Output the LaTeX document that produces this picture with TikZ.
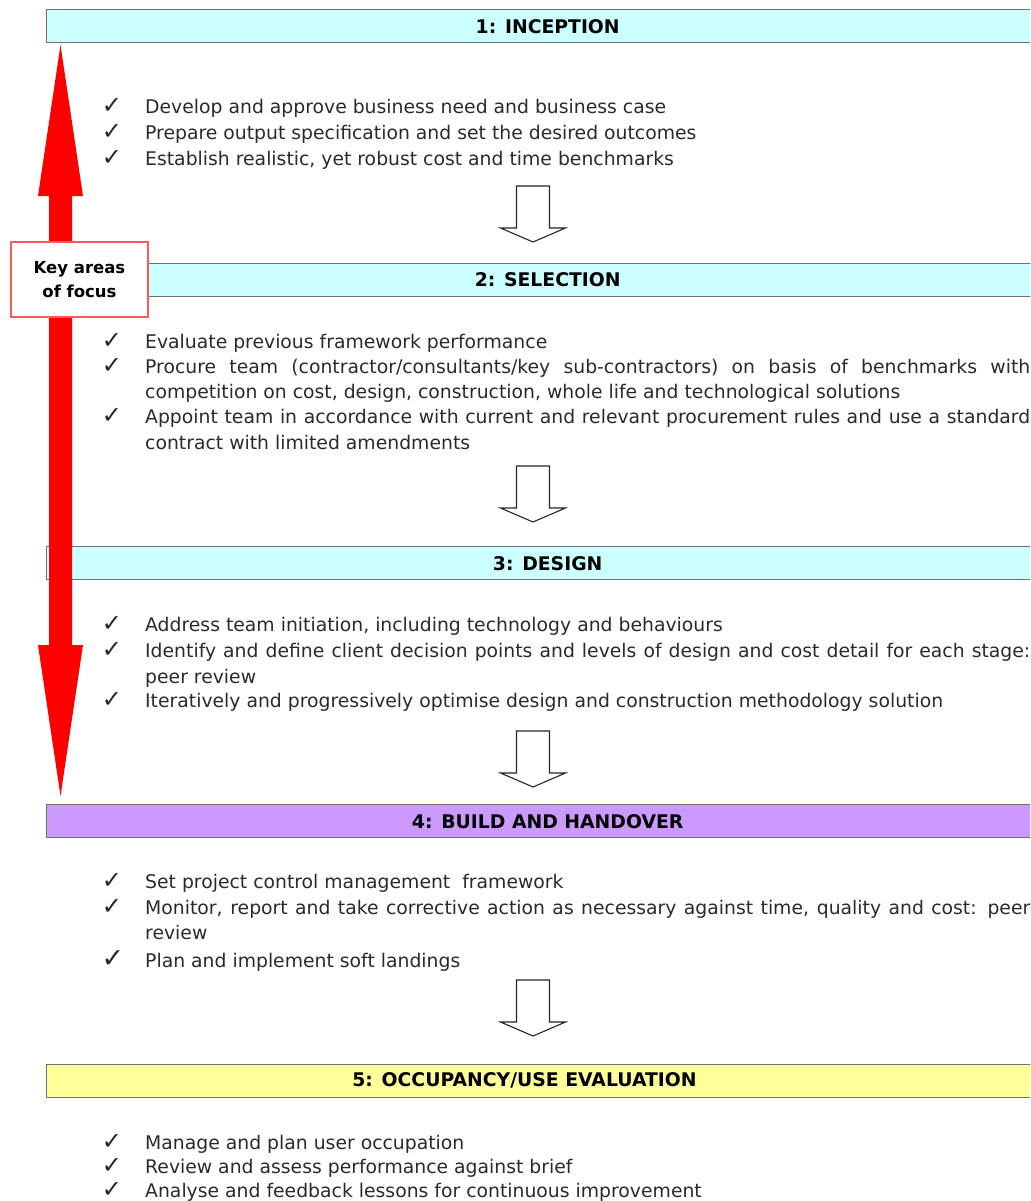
\documentclass[tikz,border=0pt]{standalone}
\usepackage{fontspec}
\setmainfont{DejaVu Sans}
\definecolor{cyanbar}{HTML}{CCFFFF}
\definecolor{lilacbar}{HTML}{CC99FF}
\definecolor{yellowbar}{HTML}{FFFF99}
\definecolor{barline}{HTML}{707070}
\definecolor{bodytext}{HTML}{2A2A2A}
\definecolor{keyred}{HTML}{FF5A5A}
\begin{document}
\begin{tikzpicture}[x=1pt,y=-1pt,
  bar/.style={draw=barline,line width=1.4pt,anchor=north west,minimum width=1002pt,minimum height=33pt,inner sep=0pt,
    font=\bfseries\fontsize{18.8}{22}\selectfont,text=black},
  bartext/.style={inner sep=0pt,font=\bfseries\fontsize{18.8}{22}\selectfont,text=black},
  item/.style={anchor=base west,inner sep=0pt,text=bodytext,font=\fontsize{18.8}{26}\selectfont},
  tick/.style={anchor=base,inner sep=0pt,text=black!85,font=\fontsize{24}{26}\selectfont},
  hollow/.style={draw=black!85,fill=white,line width=1.1pt,line join=miter},
  redarrow/.style={fill=red,draw=none}]
\useasboundingbox (0,0) rectangle (1030,1201);
\clip (0,0) rectangle (1030,1201);

% header bars
\node[bar,fill=cyanbar] (b1) at (46,9) {1: INCEPTION};
\node[bar,fill=cyanbar] (b2) at (46,262.5) {2: SELECTION};
\node[bar,fill=cyanbar] (b3) at (46,546) {3: DESIGN};
\node[bar,fill=lilacbar] (b4) at (46,804) {4: BUILD AND HANDOVER};
\node[bar,fill=yellowbar] (b5) at (46,1064) {};
\node[bartext] (t5) at (524.5,1080.5) {5: OCCUPANCY/USE EVALUATION};

% section 1
\foreach \y in {114,140,166} \node[tick] at (112,\y) {✓};
\node[item] (s1a) at (145,114) {Develop and approve business need and business case};
\node[item] (s1b) at (145,140) {Prepare output specification and set the desired outcomes};
\node[item] (s1c) at (145,166) {Establish realistic, yet robust cost and time benchmarks};

% section 2
\foreach \y in {348,373,423} \node[tick] at (112,\y) {✓};
\node[item] (s2a) at (145,348) {Evaluate previous framework performance};
\node[item] (s2b) at (145,373) {\makebox[885pt][s]{Procure team (contractor/consultants/key sub-contractors) on basis of benchmarks with}};
\node[item] (s2c) at (145,398) {competition on cost, design, construction, whole life and technological solutions};
\node[item] (s2d) at (145,423) {\makebox[885pt][s]{Appoint team in accordance with current and relevant procurement rules and use a standard}};
\node[item] (s2e) at (145,449) {contract with limited amendments};

% section 3
\foreach \y in {631,657,707} \node[tick] at (112,\y) {✓};
\node[item] (s3a) at (145,631) {Address team initiation, including technology and behaviours};
\node[item] (s3b) at (145,657) {\makebox[885pt][s]{Identify and define client decision points and levels of design and cost detail for each stage:}};
\node[item] (s3c) at (145,683) {peer review};
\node[item] (s3d) at (145,707) {Iteratively and progressively optimise design and construction methodology solution};

% section 4
\foreach \y in {888,914} \node[tick] at (112,\y) {✓};
\node[tick,font=\fontsize{27}{26}\selectfont] at (113,967) {✓};
\node[item] (s4a) at (145,888) {Set project control management\ \ framework};
\node[item] (s4b) at (145,914) {\makebox[885pt][s]{Monitor, report and take corrective action as necessary against time, quality and cost: peer}};
\node[item] (s4c) at (145,939) {review};
\node[item] (s4d) at (145,967) {Plan and implement soft landings};

% section 5
\foreach \y in {1149,1173,1197} \node[tick] at (112,\y) {✓};
\node[item] (s5a) at (145,1149) {Manage and plan user occupation};
\node[item] (s5b) at (145,1173) {Review and assess performance against brief};
\node[item] (s5c) at (145,1197) {Analyse and feedback lessons for continuous improvement};

% hollow down arrows between sections
\foreach \t/\n in {186/a1,466/a2,731/a3,980/a4}{
  \coordinate (\n) at (533,\t);
  \draw[hollow] (\n) ++(-16.5,0) -- ++(0,42) -- ++(-16,0) -- ++(32.5,14) -- ++(32.5,-14) -- ++(-16,0) -- ++(0,-42) -- cycle;
}

% red double-headed arrow
\coordinate (rtop) at (60.5,45);
\coordinate (rbot) at (60.5,796);
\fill[redarrow] (rtop) -- ++(22.5,151) -- ++(-11,0) -- ++(0,449) -- ++(11,0) -- (rbot)
  -- ++(-22.5,-151) -- ++(11,0) -- ++(0,-449) -- ++(-11,0) -- cycle;

% key box
\node[draw=keyred,fill=white,line width=1.5pt,minimum width=137pt,minimum height=75pt,inner sep=0pt,
  align=center,font=\bfseries\fontsize{16.5}{24}\selectfont] (key) at (79.5,279.5) {Key areas\\of focus};
\end{tikzpicture}
\end{document}
